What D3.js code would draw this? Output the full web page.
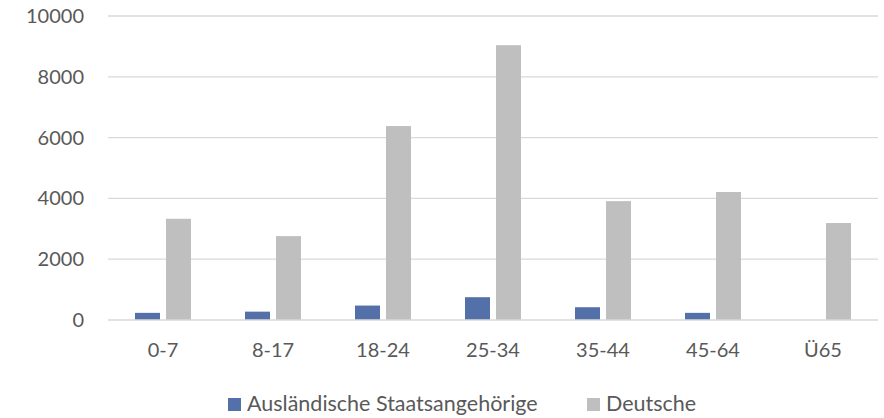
<!DOCTYPE html>
<html><head><meta charset="utf-8">
<script src="https://cdn.jsdelivr.net/npm/d3@7"></script>
<style>body{margin:0;background:#fff;} svg{display:block;}</style>
</head><body>
<svg id="c" width="884" height="418"></svg>
<script>
const categories = ["0-7","8-17","18-24","25-34","35-44","45-64","Ü65"];
const seriesNames = ["Ausländische Staatsangehörige","Deutsche"];
const auslaender = [235, 275, 475, 750, 420, 235, 0];
const deutsche = [3330, 2760, 6380, 9040, 3910, 4210, 3190];
const yTicks = [0,2000,4000,6000,8000,10000];
const colors = ["#5470a8","#bfbfbf"];

const svg = d3.select("#c");
const font = "Lato, 'Open Sans', sans-serif";
const x0 = d3.scaleBand().domain(categories).range([108, 878]);
const x1 = d3.scaleBand().domain(seriesNames)
  .range([x0.bandwidth()/2 - 28, x0.bandwidth()/2 + 28]).paddingInner(6/31);
const y = d3.scaleLinear().domain([0,10000]).range([320,16]);

// gridlines
svg.append("g").selectAll("line").data(yTicks.filter(d=>d>0)).join("line")
  .attr("x1",108).attr("x2",878).attr("y1",d=>y(d)).attr("y2",d=>y(d))
  .attr("stroke","#d9d9d9").attr("stroke-width",1.3);

// y labels
svg.append("g").selectAll("text").data(yTicks).join("text")
  .attr("x",84).attr("y",d=>y(d)).attr("dy","0.35em").attr("text-anchor","end")
  .attr("font-family",font).attr("font-size",20).attr("fill","#595959")
  .text(d=>d);

const data = categories.map((c,i)=>({cat:c, vals:[auslaender[i], deutsche[i]]}));
const g = svg.append("g").selectAll("g").data(data).join("g")
  .attr("transform",d=>`translate(${x0(d.cat)},0)`);
g.selectAll("rect").data(d=>d.vals.map((v,j)=>({k:seriesNames[j], v, j}))).join("rect")
  .attr("x",d=>x1(d.k)).attr("width",x1.bandwidth())
  .attr("y",d=>y(d.v)).attr("height",d=>y(0)-y(d.v))
  .attr("fill",d=>colors[d.j]);

// baseline
svg.append("line").attr("x1",108).attr("x2",878).attr("y1",y(0)).attr("y2",y(0))
  .attr("stroke","#d9d9d9").attr("stroke-width",1.5);

// x labels
svg.append("g").selectAll("text").data(categories).join("text")
  .attr("x",d=>x0(d)+x0.bandwidth()/2).attr("y",357).attr("text-anchor","middle")
  .attr("font-family",font).attr("font-size",20).attr("fill","#595959")
  .text(d=>d);

// legend
const leg = svg.append("g");
const items = leg.selectAll("g").data(seriesNames).join("g");
items.append("rect").attr("width",13).attr("height",13).attr("y",398).attr("fill",(d,i)=>colors[i]);
items.append("text").attr("x",19).attr("y",411).attr("font-family",font).attr("font-size",21.5)
  .attr("fill","#595959").text(d=>d);
const starts = [228, 587];
items.attr("transform",(d,i)=>`translate(${starts[i]},0)`);
</script>
</body></html>
